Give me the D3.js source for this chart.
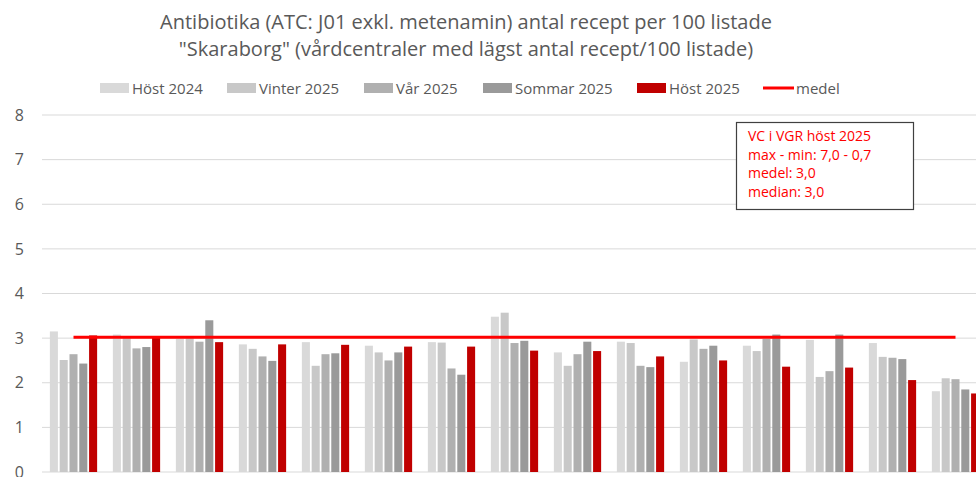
<!DOCTYPE html>
<html>
<head>
<meta charset="utf-8">
<script src="https://cdn.jsdelivr.net/npm/d3@7"></script>
<style>
  body { margin: 0; background: #fff; }
  svg { display: block; font-family: "Open Sans", "Noto Sans", sans-serif; }
</style>
</head>
<body>
<div id="chart"></div>
<script>
// data
const categories = ["VC1","VC2","VC3","VC4","VC5","VC6","VC7","VC8","VC9","VC10","VC11","VC12","VC13","VC14","VC15"];
const seriesNames = ["Höst 2024", "Vinter 2025", "Vår 2025", "Sommar 2025", "Höst 2025"];
const host2024   = [3.15, 3.08, 2.98, 2.86, 2.91, 2.83, 2.91, 3.48, 2.68, 2.92, 2.47, 2.83, 2.96, 2.89, 1.81];
const vinter2025 = [2.51, 3.03, 3.00, 2.76, 2.38, 2.68, 2.90, 3.57, 2.38, 2.89, 2.97, 2.71, 2.13, 2.58, 2.10];
const var2025    = [2.64, 2.77, 2.92, 2.59, 2.64, 2.50, 2.32, 2.89, 2.64, 2.38, 2.76, 2.98, 2.26, 2.56, 2.08];
const sommar2025 = [2.43, 2.80, 3.40, 2.49, 2.66, 2.68, 2.18, 2.94, 2.92, 2.35, 2.83, 3.08, 3.08, 2.53, 1.85];
const host2025   = [3.06, 3.02, 2.91, 2.86, 2.85, 2.81, 2.81, 2.72, 2.71, 2.59, 2.50, 2.36, 2.34, 2.06, 1.76];
const medel = 3.02;
const yTicks = [0, 1, 2, 3, 4, 5, 6, 7, 8];
const titleLines = [
  "Antibiotika (ATC: J01 exkl. metenamin) antal recept per 100 listade",
  "\"Skaraborg\" (vårdcentraler med lägst antal recept/100 listade)"
];
const boxLines = ["VC i VGR höst 2025", "max - min: 7,0 - 0,7", "medel: 3,0", "median: 3,0"];

const colors = ["#d9d9d9", "#c8c8c8", "#b0b0b0", "#9a9a9a", "#c00000"];
const allSeries = [host2024, vinter2025, var2025, sommar2025, host2025];

const width = 976, height = 477;
const svg = d3.select("#chart").append("svg")
  .attr("width", width).attr("height", height);

// title
svg.append("g").selectAll("text")
  .data(titleLines).enter().append("text")
  .attr("x", 466).attr("y", (d, i) => 29 + i * 27)
  .attr("text-anchor", "middle")
  .style("font-size", "20px")
  .style("fill", "#595959")
  .text((d) => d);

// scales
const x = d3.scaleBand().domain(categories).range([42, 987]).paddingInner(0.25).paddingOuter(0.125);
const xs = d3.scaleBand().domain(seriesNames).range([0, x.bandwidth()]).paddingInner(0.18);
const y = d3.scaleLinear().domain([0, 8]).range([472, 115]);

// grid
svg.append("g").selectAll("line")
  .data(yTicks).enter().append("line")
  .attr("x1", 42).attr("x2", width)
  .attr("y1", (d) => y(d)).attr("y2", (d) => y(d))
  .attr("stroke", "#d9d9d9").attr("stroke-width", 1);

// y labels
const yAxis = svg.append("g")
  .attr("transform", "translate(24,0)")
  .call(d3.axisLeft(y).tickValues(yTicks).tickSize(0).tickPadding(0).tickFormat(d3.format("d")));
yAxis.select(".domain").remove();
yAxis.selectAll("text")
  .style("font-size", "16px")
  .style("fill", "#595959")
  .style("font-family", "'Open Sans', sans-serif");

// bars
const groups = svg.append("g").selectAll("g")
  .data(categories).enter().append("g")
  .attr("transform", (d) => `translate(${x(d)},0)`);

groups.selectAll("rect")
  .data((d, i) => seriesNames.map((s, k) => ({ s, k, v: allSeries[k][i] })))
  .enter().append("rect")
  .attr("x", (d) => xs(d.s))
  .attr("y", (d) => y(d.v))
  .attr("width", xs.bandwidth())
  .attr("height", (d) => y(0) - y(d.v))
  .attr("fill", (d) => colors[d.k]);

// medel line
const line = d3.line()
  .x((d) => x(d) + x.bandwidth() / 2)
  .y(() => y(medel));
svg.append("path")
  .datum(categories)
  .attr("d", line)
  .attr("fill", "none")
  .attr("stroke", "#ff0000")
  .attr("stroke-width", 3);

// legend
const legendX = [100, 227, 364, 483, 637];
const legend = svg.append("g");
seriesNames.forEach((name, k) => {
  legend.append("rect")
    .attr("x", legendX[k]).attr("y", 83)
    .attr("width", 29).attr("height", 10)
    .attr("fill", colors[k]);
  legend.append("text")
    .attr("x", legendX[k] + 32).attr("y", 93.5)
    .style("font-size", "15px").style("fill", "#595959")
    .text(name);
});
legend.append("line")
  .attr("x1", 763).attr("x2", 794).attr("y1", 88).attr("y2", 88)
  .attr("stroke", "#ff0000").attr("stroke-width", 3);
legend.append("text")
  .attr("x", 796).attr("y", 93.5)
  .style("font-size", "15px").style("fill", "#595959")
  .text("medel");

// annotation box
const box = svg.append("g");
box.append("rect")
  .attr("x", 736.5).attr("y", 122.5)
  .attr("width", 177).attr("height", 87)
  .attr("fill", "#fff").attr("stroke", "#404040").attr("stroke-width", 1.2);
box.selectAll("text")
  .data(boxLines).enter().append("text")
  .attr("x", 748).attr("y", (d, i) => 141 + i * 18.7)
  .style("font-size", "14px").style("fill", "#ff0000")
  .text((d) => d);
</script>
</body>
</html>
